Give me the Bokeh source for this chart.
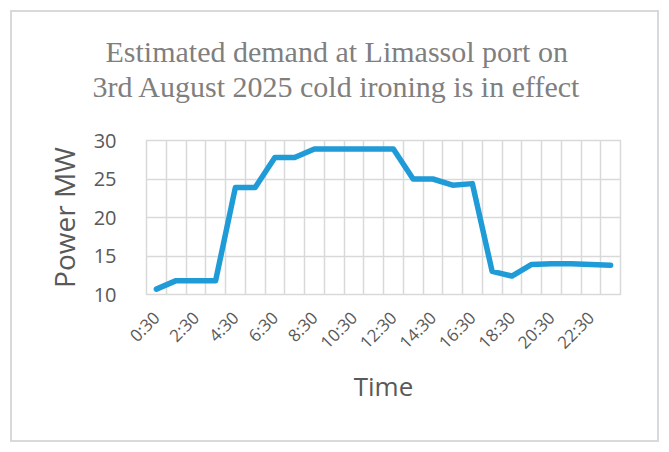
import numpy as np
from bokeh.plotting import figure
from bokeh.models import (Range1d, FixedTicker, Grid, Title, ColumnDataSource)
from bokeh.embed import file_html
from bokeh.resources import INLINE

times = ["0:30", "1:30", "2:30", "3:30", "4:30", "5:30", "6:30", "7:30",
         "8:30", "9:30", "10:30", "11:30", "12:30", "13:30", "14:30", "15:30",
         "16:30", "17:30", "18:30", "19:30", "20:30", "21:30", "22:30", "23:30"]
power = [10.7, 11.8, 11.8, 11.8, 23.9, 23.9, 27.8, 27.8,
         28.9, 28.9, 28.9, 28.9, 28.9, 25.0, 25.0, 24.2,
         24.4, 13.0, 12.4, 13.9, 14.0, 14.0, 13.9, 13.8]
y_ticks = [10, 15, 20, 25, 30]
title_lines = ["Estimated demand at Limassol port on",
               "3rd August 2025 cold ironing is in effect"]

n = len(times)
xpos = np.arange(n) + 0.5
src = ColumnDataSource(dict(x=xpos, y=power, t=times))

AX = "#595959"
GRID = "#d9d9d9"
FONT = "Open Sans"
TFONT = "Liberation Serif"
TCOL = "#7f7f7f"

p = figure(width=669, height=452, output_backend="svg", toolbar_location=None,
           x_range=Range1d(0, n), y_range=Range1d(10, 30),
           min_border_left=146, min_border_right=49, min_border_top=140,
           min_border_bottom=158)
p.border_fill_color = None
p.background_fill_color = "white"
p.styles = {"outline": "2px solid #d9d9d9", "outline-offset": "-12px",
            "background-color": "white"}

# spacer nearest the frame, then line 2, then p.title (line 1) outermost
p.add_layout(Title(text=" ", align="left", text_font=TFONT,
                   text_font_style="normal", text_font_size="30px",
                   text_color=TCOL, standoff=3), "above")
p.add_layout(Title(text=title_lines[1], align="left", offset=-54, text_font=TFONT,
                   text_font_style="normal", text_font_size="30px",
                   text_color=TCOL, standoff=0), "above")
p.title.text = title_lines[0]
p.title.align = "left"
p.title.offset = -41
p.title.text_font = TFONT
p.title.text_font_style = "normal"
p.title.text_font_size = "30px"
p.title.text_color = TCOL
p.title.standoff = 0

p.xgrid.visible = False
p.ygrid.ticker = FixedTicker(ticks=y_ticks)
p.ygrid.grid_line_color = GRID
p.ygrid.grid_line_width = 1.5
p.add_layout(Grid(dimension=0, ticker=FixedTicker(ticks=list(range(n + 1))),
                  grid_line_color=GRID, grid_line_width=1.5))
p.outline_line_color = GRID
p.outline_line_width = 1.5

p.line("x", "y", source=src, line_color="#1f9bd7", line_width=5.5,
       line_cap="round", line_join="round")

# axes
p.yaxis.ticker = FixedTicker(ticks=y_ticks)
p.yaxis.axis_line_color = None
p.yaxis.major_tick_line_color = None
p.yaxis.minor_tick_line_color = None
p.yaxis.major_label_text_font = FONT
p.yaxis.major_label_text_font_size = "20px"
p.yaxis.major_label_text_color = AX
p.yaxis.major_label_standoff = 24
p.yaxis.axis_label = "Power MW"
p.yaxis.axis_label_text_font = FONT
p.yaxis.axis_label_text_font_size = "28px"
p.yaxis.axis_label_text_font_style = "normal"
p.yaxis.axis_label_text_color = AX
p.yaxis.axis_label_standoff = 8

lab_idx = list(range(0, n, 2))
p.xaxis.ticker = FixedTicker(ticks=[float(xpos[i]) for i in lab_idx])
p.xaxis.major_label_overrides = {float(xpos[i]): times[i] for i in lab_idx}
p.xaxis.axis_line_color = None
p.xaxis.major_tick_line_color = None
p.xaxis.minor_tick_line_color = None
p.xaxis.major_label_orientation = np.pi / 4
p.xaxis.major_label_text_font = FONT
p.xaxis.major_label_text_font_size = "17px"
p.xaxis.major_label_text_color = AX
p.xaxis.major_label_standoff = 14
p.xaxis.axis_label = "Time"
p.xaxis.axis_label_text_font = FONT
p.xaxis.axis_label_text_font_size = "26px"
p.xaxis.axis_label_text_font_style = "normal"
p.xaxis.axis_label_text_color = AX
p.xaxis.axis_label_standoff = 4

open("out.html", "w").write(file_html(p, INLINE))
